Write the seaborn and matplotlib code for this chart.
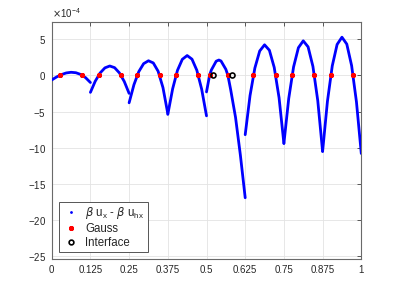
"""Pointwise flux error of a piecewise linear FE solution with an interface."""

import matplotlib
import pandas as pd
import seaborn as sns

matplotlib.use("Agg")
import matplotlib.pyplot as plt
from matplotlib.lines import Line2D
from matplotlib.ticker import ScalarFormatter

SCALE = 1e-4

# element edges and local sample positions (fraction of element length)
elem_edges = [0.0, 0.125, 0.25, 0.375, 0.5, 0.625, 0.75, 0.875, 1.0]
t_std = [0.0, 0.125, 0.25, 0.375, 0.5, 0.625, 0.75, 0.875, 1.0]
t_elem5 = [0.0, 0.08, 0.125, 0.25, 0.32, 0.375, 0.5, 0.552, 0.625, 0.75, 0.875, 1.0]

# error values (x 1e-4) read off each element
err_1 = [-0.65, -0.24, 0.09, 0.32, 0.41, 0.35, 0.11, -0.33, -1.0]
err_2 = [-2.36, -0.82, 0.31, 1.02, 1.28, 1.05, 0.32, -0.86, -2.5]
err_3 = [-3.8, -1.3, 0.5, 1.6, 2.0, 1.7, 0.55, -1.7, -5.3]
err_4 = [-5.4, -1.87, 0.68, 2.2, 2.72, 2.22, 0.69, -1.92, -5.6]
err_5 = [-2.3, 0.0, 0.72, 1.94, 2.1, 1.97, 0.82, 0.0, -2.0, -5.8, -11.0, -16.9]
err_6 = [-8.2, -2.8, 1.0, 3.35, 4.2, 3.45, 1.08, -3.1, -9.4]
err_7 = [-9.4, -3.2, 1.15, 3.8, 4.75, 3.92, 1.22, -3.5, -10.5]
err_8 = [-10.5, -3.6, 1.3, 4.25, 5.25, 4.3, 1.33, -3.68, -10.8]

gauss_x = [0.0264, 0.0986, 0.1514, 0.2236, 0.2764, 0.3486, 0.4014, 0.4736,
           0.510, 0.569, 0.6514, 0.7236, 0.7764, 0.8486, 0.9014, 0.9736]
interface_x = [0.5226, 0.583]

xtick_labels = ["0", "0.125", "0.25", "0.375", "0.5", "0.625", "0.75", "0.875", "1"]
ytick_vals = [-25, -20, -15, -10, -5, 0, 5]


def build_frame() -> pd.DataFrame:
    errs = [err_1, err_2, err_3, err_4, err_5, err_6, err_7, err_8]
    rows = []
    for k, vals in enumerate(errs):
        t = t_elem5 if k == 4 else t_std
        a, b = elem_edges[k], elem_edges[k + 1]
        for tt, v in zip(t, vals):
            rows.append({"x": a + tt * (b - a), "err": v * SCALE, "elem": k})
    return pd.DataFrame(rows)


sns.set_theme(style="white")
plt.rcParams["font.family"] = ["Liberation Sans", "DejaVu Sans"]
plt.rcParams["mathtext.fontset"] = "dejavusans"

df = build_frame()

fig, ax = plt.subplots(figsize=(3.99, 2.92), dpi=100)
fig.subplots_adjust(left=0.1296, right=0.9055, bottom=0.113, top=0.9247)

sns.lineplot(data=df, x="x", y="err", units="elem", estimator=None, sort=False,
             color="blue", lw=2.0, ax=ax, legend=False, zorder=3)
ax.plot(gauss_x, [0.0] * len(gauss_x), ls="none", marker=(8, 2, 0), ms=3.6,
        mew=1.1, color="red", zorder=4)
ax.plot(interface_x, [0.0] * len(interface_x), ls="none", marker="o", ms=3.6,
        mfc="none", mec="black", mew=1.2, zorder=5)

ax.set_xlim(0, 1)
ax.set_ylim(-25.35 * SCALE, 7.35 * SCALE)
ax.set_xticks(elem_edges)
ax.set_xticklabels(xtick_labels)
ax.set_yticks([v * SCALE for v in ytick_vals])
fmt = ScalarFormatter(useMathText=True)
fmt.set_powerlimits((-4, -4))
ax.yaxis.set_major_formatter(fmt)
ax.yaxis.get_offset_text().set_fontsize(7)
ax.yaxis.get_offset_text().set_color("#262626")
ax.set_xlabel("")
ax.set_ylabel("")

ax.grid(True, color="#e3e3e3", lw=0.6)
ax.tick_params(direction="in", length=3, width=0.6, top=True, right=True,
               color="#404040", labelcolor="#262626", labelsize=7, pad=4)
for spine in ax.spines.values():
    spine.set_color("#6a6a6a")
    spine.set_linewidth(0.8)

handles = [
    Line2D([], [], ls="none", marker=".", ms=2.0, color="blue"),
    Line2D([], [], ls="none", marker=(8, 2, 0), ms=3.6, mew=1.1, color="red"),
    Line2D([], [], ls="none", marker="o", ms=3.4, mfc="none", mec="black", mew=1.2),
]
labels = [r"$\beta$ u$_\mathregular{x}$ - $\beta$ u$_\mathregular{hx}$", "Gauss", "Interface"]
leg = ax.legend(handles, labels, loc="lower left", bbox_to_anchor=(0.0245, 0.0295),
                borderaxespad=0, fontsize=8.3, frameon=True, fancybox=False,
                framealpha=1, edgecolor="#555555", handlelength=1.4,
                handletextpad=0.55, labelspacing=0.15, borderpad=0.3)
leg.get_frame().set_linewidth(0.7)

fig.savefig("out.png", dpi=100)
plt.close(fig)
